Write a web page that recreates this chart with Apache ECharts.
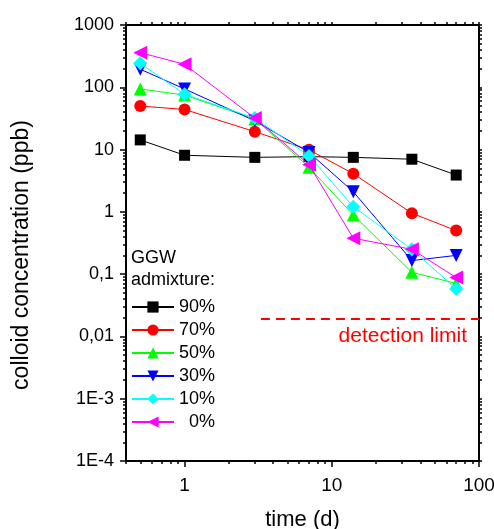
<!DOCTYPE html>
<html>
<head>
<meta charset="utf-8">
<script src="https://cdn.jsdelivr.net/npm/echarts@6/dist/echarts.min.js"></script>
<style>html,body{margin:0;padding:0;background:#fff}#c{width:494px;height:529px}</style>
</head>
<body>
<div id="c"></div>
<script>
// ---- data ----
const times = [0.5, 1, 3, 7, 14, 35, 70];
const seriesNames = ['90%', '70%', '50%', '30%', '10%', '  0%'];
const v90 = [14.3, 8.1, 7.5, 7.7, 7.5, 7.0, 3.9];
const v70 = [50, 44, 19.4, 9.9, 4.1, 0.95, 0.5];
const v50 = [94, 75, 31, 5.2, 0.89, 0.107, 0.071];
const v30 = [195, 94, 29, 9.0, 2.1, 0.165, 0.2];
const v10 = [243, 77, 32, 7.9, 1.21, 0.25, 0.058];
const v0 = [360, 234, 32, 5.7, 0.377, 0.25, 0.088];
const detectionLimit = 0.019;
const detectionStart = 3.3;
const detectionEnd = 100;
const yTickValues = [1000, 100, 10, 1, 0.1, 0.01, 0.001, 0.0001];
const yTickLabels = ['1000', '100', '10', '1', '0,1', '0,01', '1E-3', '1E-4'];
const xTickValues = [1, 10, 100];
const xTickLabels = ['1', '10', '100'];

// ---- build ----
const colors = ['#000000', '#ff0000', '#00ff00', '#0000ff', '#00ffff', '#ff00ff'];
const symbols = ['rect', 'circle', 'triangle', 'triangle', 'diamond', 'triangle'];
const symbolSizes = [11, 12, 13, 13, 14, 14];
const symbolRotates = [0, 0, 0, 180, 0, 90];
const allValues = [v90, v70, v50, v30, v10, v0];

function minorTicks(lo, hi) {
  const out = [];
  for (let e = lo; e < hi; e++) {
    for (let k = 2; k <= 9; k++) out.push(Number((k * Math.pow(10, e)).toPrecision(3)));
  }
  return out;
}
const xMinor = minorTicks(-1, 2).filter(v => v >= 0.4 && v <= 100);
const yMinor = minorTicks(-4, 3);

const FONT = 'Liberation Sans, Arial, sans-serif';
const axisLineStyle = { color: '#000', width: 2 };

const series = allValues.map((vals, i) => ({
  name: seriesNames[i],
  type: 'line',
  xAxisIndex: 0, yAxisIndex: 0,
  data: times.map((t, j) => [t, vals[j]]),
  symbol: symbols[i],
  symbolSize: symbolSizes[i],
  symbolRotate: symbolRotates[i],
  showAllSymbol: true,
  lineStyle: { color: colors[i], width: 1 },
  itemStyle: { color: colors[i] },
  emphasis: { disabled: true },
  z: 3 + i
}));
series.push({
  name: 'detection',
  type: 'line',
  xAxisIndex: 0, yAxisIndex: 0,
  data: [],
  silent: true,
  markLine: {
    silent: true,
    symbol: 'none',
    lineStyle: { color: '#ff0000', width: 2, type: [9, 6] },
    label: {
      show: true, formatter: 'detection limit', color: '#ff0000', fontSize: 21, fontFamily: FONT,
      position: 'insideEndBottom', distance: [12, 7]
    },
    data: [[{ coord: [detectionStart, detectionLimit] }, { coord: [detectionEnd, detectionLimit] }]]
  },
  z: 2
});

const labelMapX = {}; xTickValues.forEach((v, i) => labelMapX[v] = xTickLabels[i]);
const labelMapY = {}; yTickValues.forEach((v, i) => labelMapY[v] = yTickLabels[i]);

function xAx(grid, pos, major, labels) {
  return {
    gridIndex: grid,
    type: 'log', logBase: 10, min: 0.4, max: 100, position: pos,
    axisLine: { show: true, lineStyle: axisLineStyle, onZero: false },
    axisTick: { show: true, inside: false, length: major ? (pos === 'bottom' ? 6 : 3) : 3,
      lineStyle: { color: '#000', width: 1.5 }, customValues: major ? xTickValues : xMinor },
    axisLabel: labels ? { show: true, customValues: xTickValues, formatter: v => labelMapX[v] ?? '', fontSize: 19, color: '#000', fontFamily: FONT, margin: 15 } : { show: false },
    splitLine: { show: false },
    name: labels ? 'time (d)' : '', nameLocation: 'middle', nameGap: 48,
    nameTextStyle: { fontSize: 22, color: '#000', fontFamily: FONT }
  };
}
function yAx(grid, pos, major, labels) {
  return {
    gridIndex: grid,
    type: 'log', logBase: 10, min: 0.0001, max: 1000, position: pos,
    axisLine: { show: true, lineStyle: axisLineStyle, onZero: false },
    axisTick: { show: true, inside: false, length: major ? (pos === 'left' ? 6 : 3) : 3,
      lineStyle: { color: '#000', width: 1.5 }, customValues: major ? yTickValues : yMinor },
    axisLabel: labels ? { show: true, customValues: yTickValues, formatter: v => labelMapY[v] ?? '', fontSize: 18, color: '#000', fontFamily: FONT, margin: 12 } : { show: false },
    splitLine: { show: false },
    name: labels ? 'colloid concentration (ppb)' : '', nameLocation: 'middle', nameGap: 93,
    nameTextStyle: { fontSize: 23, color: '#000', fontFamily: FONT, padding: [0, 24, 0, 0] }
  };
}

const gridRect = { left: 126, right: 15, top: 25, bottom: 68, containLabel: false, outerBoundsMode: 'none' };
const chart = echarts.init(document.getElementById('c'), null, { renderer: 'canvas' });
chart.setOption({
  backgroundColor: '#fff',
  animation: false,
  grid: [Object.assign({}, gridRect), Object.assign({}, gridRect)],
  xAxis: [xAx(0, 'bottom', true, true), xAx(0, 'top', true, false), xAx(1, 'bottom', false, false), xAx(1, 'top', false, false)],
  yAxis: [yAx(0, 'left', true, true), yAx(0, 'right', true, false), yAx(1, 'left', false, false), yAx(1, 'right', false, false)],
  title: {
    text: 'GGW\nadmixture:', left: 131, top: 247,
    textStyle: { fontSize: 18, fontWeight: 'normal', color: '#000', fontFamily: FONT, lineHeight: 22 },
    padding: 0
  },
  legend: {
    data: seriesNames, orient: 'vertical', left: 131, top: 298, padding: 0,
    itemWidth: 42, itemHeight: 14, itemGap: 5,
    textStyle: { fontSize: 18, color: '#000', fontFamily: FONT },
    selectedMode: false
  },
  series: series
});
</script>
</body>
</html>
